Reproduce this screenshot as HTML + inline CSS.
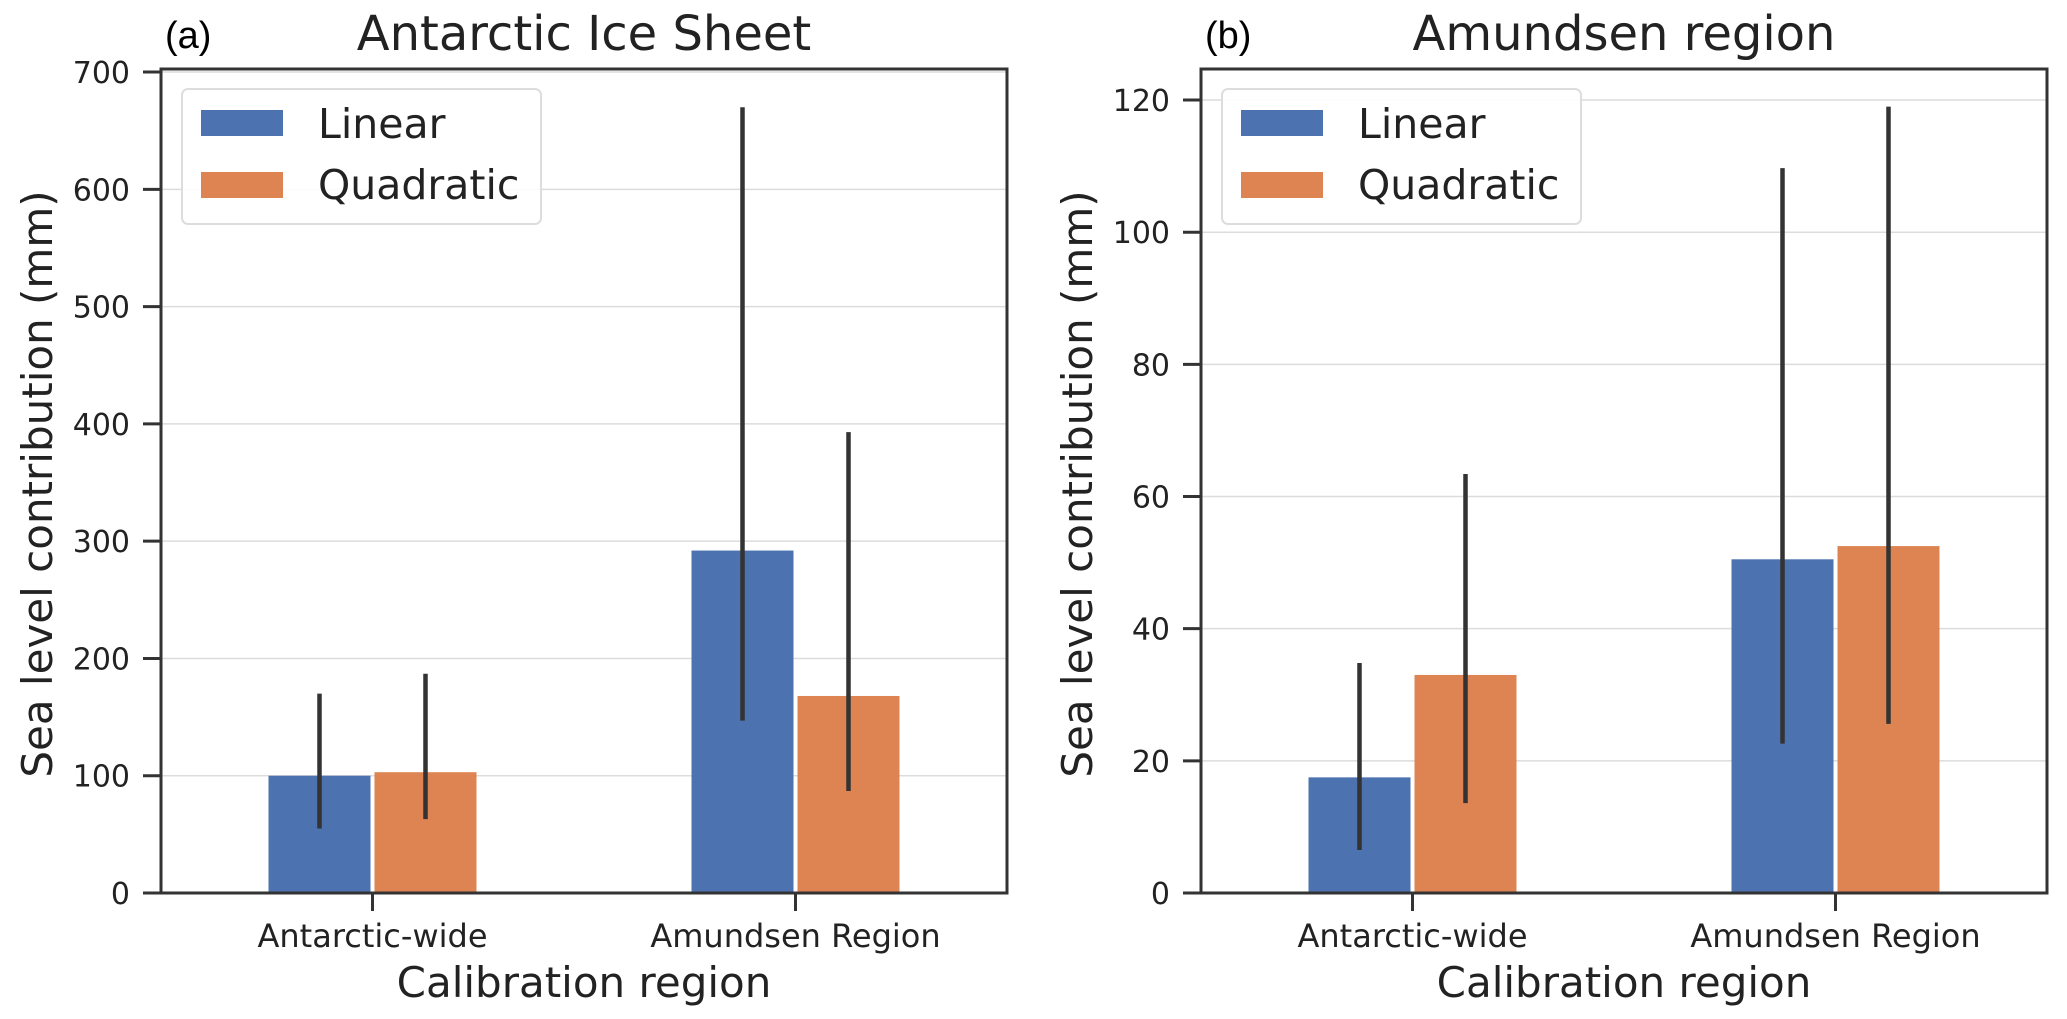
<!DOCTYPE html>
<html><head><meta charset="utf-8"><style>
html,body{margin:0;padding:0;background:#fff;}
svg{display:block;font-family:"DejaVu Sans","Liberation Sans",sans-serif;}
</style></head><body>
<svg id="fig" width="2067" height="1019" viewBox="0 0 2067 1019" xmlns="http://www.w3.org/2000/svg"></svg>
<script>
const categories = ["Antarctic-wide", "Amundsen Region"];
const seriesNames = ["Linear", "Quadratic"];
// panel (a)
const aLinear = [100, 292];
const aQuadratic = [103, 168];
const aLinearLo = [55, 147];
const aLinearHi = [170, 670];
const aQuadLo = [63, 87];
const aQuadHi = [187, 393];
const aTicks = [0, 100, 200, 300, 400, 500, 600, 700];
// panel (b)
const bLinear = [17.5, 50.5];
const bQuadratic = [33, 52.5];
const bLinearLo = [6.5, 22.6];
const bLinearHi = [34.8, 109.7];
const bQuadLo = [13.6, 25.6];
const bQuadHi = [63.4, 119];
const bTicks = [0, 20, 40, 60, 80, 100, 120];

const NS = "http://www.w3.org/2000/svg";
const svg = document.getElementById("fig");
const colors = ["#4c72b0", "#dd8452"];
function mk(tag, attrs, parent, text) {
  const e = document.createElementNS(NS, tag);
  for (const k in attrs) e.setAttribute(k, attrs[k]);
  if (text !== undefined) e.textContent = text;
  (parent || svg).appendChild(e);
  return e;
}

function panel(cfg) {
  const g = mk("g", {});
  
  
  const L = cfg.left, R = cfg.right, T = 69, B = 893;
  const y = v => B - (v / cfg.ymax) * (B - T);
  const groupW = (R - L) / 2;
  const xc = i => L + groupW * (i + 0.5);
  const barW = 102, gap = 2;
  cfg.ticks.forEach(t => {
    const gl = mk("line", {x1: L, x2: R, y1: y(t), y2: y(t), stroke: "#dcdcdc", "stroke-width": 1.5}, g);
    
    
  });
  const vals = [cfg.lin, cfg.quad];
  const lo = [cfg.linLo, cfg.quadLo];
  const hi = [cfg.linHi, cfg.quadHi];
  categories.forEach((c, i) => {
    for (let s = 0; s < 2; s++) {
      const x0 = s === 0 ? xc(i) - gap - barW : xc(i) + gap;
      const r = mk("rect", {x: x0, y: y(vals[s][i]), width: barW, height: B - y(vals[s][i]), fill: colors[s]}, g);
      
      
    }
    for (let s = 0; s < 2; s++) {
      const x0 = s === 0 ? xc(i) - gap - barW / 2 : xc(i) + gap + barW / 2;
      const e = mk("line", {x1: x0, x2: x0, y1: y(lo[s][i]), y2: y(hi[s][i]), stroke: "#333", "stroke-width": 4.5}, g);
      
      
    }
    const tk = mk("line", {x1: xc(i), x2: xc(i), y1: B, y2: B + 18, stroke: "#333", "stroke-width": 3}, g);
    
    
    const tl = mk("text", {x: xc(i), y: 947, "text-anchor": "middle", "font-size": 32, fill: "#222"}, g, c);
    
    
  });
  cfg.ticks.forEach(t => {
    const tk = mk("line", {x1: L - 18, x2: L, y1: y(t), y2: y(t), stroke: "#333", "stroke-width": 3}, g);
    
    
    const tl = mk("text", {x: L - 31, y: y(t) + 11, "text-anchor": "end", "font-size": 30, fill: "#222"}, g, String(t));
    
    
  });
  const fr = mk("rect", {x: L, y: T, width: R - L, height: B - T, fill: "none", stroke: "#333", "stroke-width": 3}, g);
  
  
  const lg = mk("g", {}, g);
  
  
  mk("rect", {x: L + 21, y: 89, width: 359, height: 135, rx: 6, fill: "#fff", "fill-opacity": 0.9, stroke: "#ddd", "stroke-width": 2}, lg);
  seriesNames.forEach((n, s) => {
    const p = mk("rect", {x: L + 40, y: 110 + s * 62, width: 82, height: 26, fill: colors[s]}, lg);
    
    
    const t = mk("text", {x: L + 157, y: 138 + s * 61, "font-size": 41, fill: "#222"}, lg, n);
    
    
  });
  const tt = mk("text", {x: (L + R) / 2, y: 50, "text-anchor": "middle", "font-size": 48, fill: "#222"}, g, cfg.title);
  
  
  const pl = mk("text", {x: L + 4, y: 48, "font-size": 38, fill: "#000", "font-family": "Liberation Sans, sans-serif"}, g, cfg.label);
  
  
  const xt = mk("text", {x: (L + R) / 2, y: 997, "text-anchor": "middle", "font-size": 42, fill: "#222"}, g, "Calibration region");
  
  
  const yt = mk("text", {x: 0, y: 0, "text-anchor": "middle", "font-size": 42, fill: "#222", transform: "translate(" + cfg.ylx + ",484) rotate(-90)"}, g, "Sea level contribution (mm)");
  
  
}

panel({name: "panel-a", left: 161, right: 1007, ymax: 702.6, ticks: aTicks, lin: aLinear, quad: aQuadratic,
  linLo: aLinearLo, linHi: aLinearHi, quadLo: aQuadLo, quadHi: aQuadHi, title: "Antarctic Ice Sheet", label: "(a)", ylx: 52});
panel({name: "panel-b", left: 1201, right: 2047, ymax: 124.7, ticks: bTicks, lin: bLinear, quad: bQuadratic,
  linLo: bLinearLo, linHi: bLinearHi, quadLo: bQuadLo, quadHi: bQuadHi, title: "Amundsen region", label: "(b)", ylx: 1092});
</script>
</body></html>
